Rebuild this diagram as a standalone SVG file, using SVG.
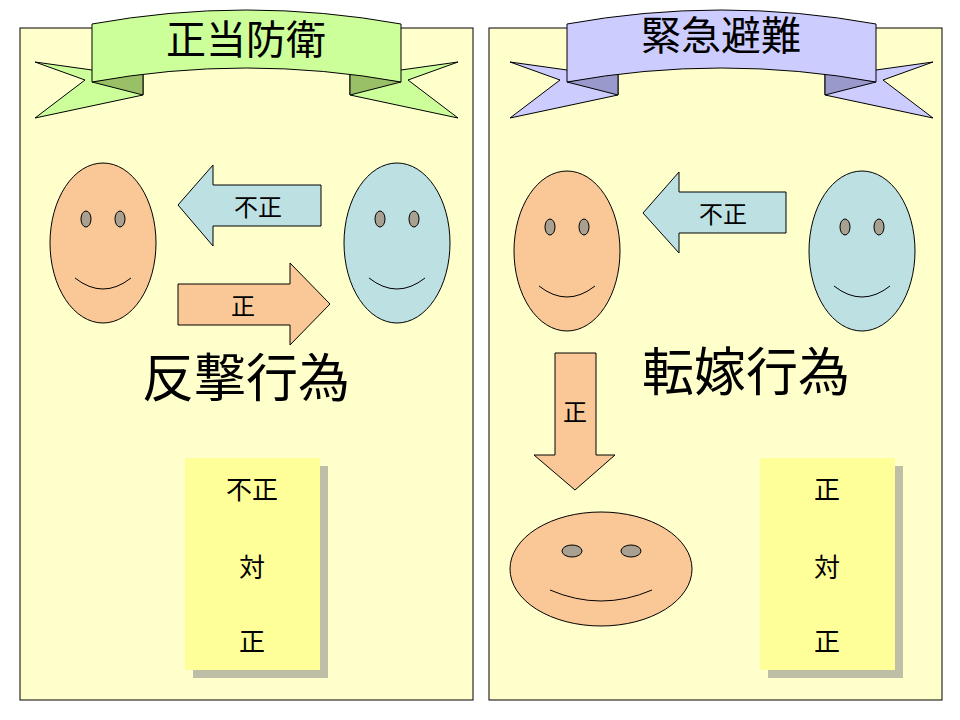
<svg xmlns="http://www.w3.org/2000/svg" width="960" height="720" viewBox="0 0 960 720">
<style>
text{font-family:"Noto Sans CJK JP","Noto Sans CJK SC",sans-serif;fill:#000;text-anchor:middle;stroke:none}
.panel{fill:#ffffcc;stroke:#000;stroke-width:1}
.s{stroke:#000;stroke-width:1}
.o{fill:#fac896}.b{fill:#bde0e3}
.eye{fill:#a8a090;stroke:#000;stroke-width:1}
.m{fill:none;stroke:#000;stroke-width:1}
.note{fill:#ffff99}.sh{fill:#bfbfa8}
</style>
<rect width="960" height="720" fill="#fff"/>
<g id="leftpanel"><rect class="panel" x="20" y="28" width="453" height="672"/></g>
<g id="rightpanel"><rect class="panel" x="489" y="28" width="453" height="672"/></g>
<g id="ribbon1" class="s">
<polygon fill="#ccff99" points="92,70 35,62 85,80 35,118 143,95 143,72"/>
<polygon fill="#ccff99" points="401,70 458,62 408,80 458,118 350,95 350,72"/>
<polygon fill="#99c066" points="92,82 143,95 143,72"/>
<polygon fill="#99c066" points="401,82 350,95 350,72"/>
<path fill="#ccff99" d="M92,24 Q246,-4 401,24 L401,82 Q246,54 92,82 Z"/>
<text x="246" y="54" font-size="40">正当防衛</text>
</g>
<g id="ribbon2" class="s">
<polygon fill="#ccccff" points="567,70 510,62 560,80 510,118 618,95 618,72"/>
<polygon fill="#ccccff" points="876,70 933,62 883,80 933,118 825,95 825,72"/>
<polygon fill="#9999cc" points="567,82 618,95 618,72"/>
<polygon fill="#9999cc" points="876,82 825,95 825,72"/>
<path fill="#ccccff" d="M567,24 Q721,-4 876,24 L876,82 Q721,54 567,82 Z"/>
<text x="721" y="50" font-size="40">緊急避難</text>
</g>
<g id="face1"><ellipse class="o s" cx="103" cy="243" rx="53" ry="80"/><ellipse class="eye" cx="86" cy="219" rx="5" ry="8"/><ellipse class="eye" cx="120" cy="219" rx="5" ry="8"/><path class="m" d="M75,278 Q103,300 131,278"/></g>
<g id="face2"><ellipse class="b s" cx="397" cy="243" rx="53" ry="80"/><ellipse class="eye" cx="380" cy="219" rx="5" ry="8"/><ellipse class="eye" cx="414" cy="219" rx="5" ry="8"/><path class="m" d="M369,278 Q397,300 425,278"/></g>
<g id="face3"><ellipse class="o s" cx="567" cy="251" rx="53" ry="80"/><ellipse class="eye" cx="550" cy="227" rx="5" ry="8"/><ellipse class="eye" cx="584" cy="227" rx="5" ry="8"/><path class="m" d="M539,286 Q567,308 595,286"/></g>
<g id="face4"><ellipse class="b s" cx="862" cy="251" rx="53" ry="80"/><ellipse class="eye" cx="845" cy="227" rx="5" ry="8"/><ellipse class="eye" cx="879" cy="227" rx="5" ry="8"/><path class="m" d="M834,286 Q862,308 890,286"/></g>
<g id="face5"><ellipse class="o s" cx="601" cy="569" rx="91" ry="57"/><ellipse class="eye" cx="572" cy="551" rx="10" ry="6"/><ellipse class="eye" cx="631" cy="551" rx="10" ry="6"/><path class="m" d="M550,590 Q601,612 652,590"/></g>
<g id="connectors">
<g id="arrow1"><polygon class="b s" points="321,185 213,185 213,165 178,205 213,246 213,226 321,226"/><text x="258" y="216" font-size="24">不正</text></g>
<g id="arrow2"><polygon class="o s" points="178,284 290,284 290,263 330,304 290,345 290,325 178,325"/><text x="243" y="315" font-size="24">正</text></g>
<g id="arrow3"><polygon class="b s" points="786,192 679,192 679,172 643,213 679,253 679,233 786,233"/><text x="723" y="223" font-size="24">不正</text></g>
<g id="arrow4"><polygon class="o s" points="555,353 596,353 596,455 615,455 575,490 534,455 555,455"/><text x="575" y="421" font-size="24">正</text></g>
</g>
<text x="246" y="397" font-size="52">反撃行為</text>
<text x="746" y="391" font-size="52">転嫁行為</text>
<g id="note1"><rect class="sh" x="193" y="466" width="135" height="212"/><rect class="note" x="185" y="458" width="135" height="212"/><text x="252" y="499" font-size="26">不正</text><text x="252" y="577" font-size="26">対</text><text x="252" y="651" font-size="26">正</text></g>
<g id="note2"><rect class="sh" x="768" y="466" width="135" height="212"/><rect class="note" x="760" y="458" width="135" height="212"/><text x="827" y="499" font-size="26">正</text><text x="827" y="577" font-size="26">対</text><text x="827" y="651" font-size="26">正</text></g>
</svg>
